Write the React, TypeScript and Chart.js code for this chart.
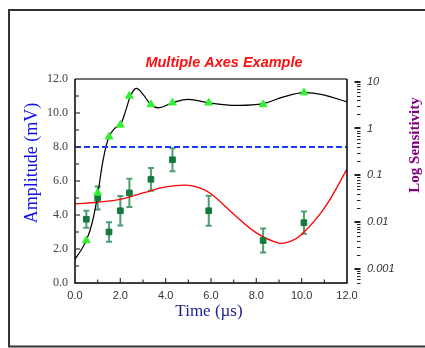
import { useEffect, useRef } from 'react';
import { Chart, registerables } from 'chart.js';

Chart.register(...registerables);

// Smooth black response curve
const responseX = [0, 0.25, 0.5, 0.75, 1.0, 1.25, 1.5, 1.75, 2.0, 2.25, 2.45, 2.7, 3.0, 3.35, 3.7, 4.3, 5.0, 5.9, 7.1, 8.3, 9.2, 10.1, 11.0, 12.0];
const responseY = [1.4, 1.9, 2.5, 3.5, 5.2, 7.3, 8.6, 9.1, 9.3, 10.2, 11.0, 11.45, 11.1, 10.5, 10.3, 10.6, 10.8, 10.6, 10.45, 10.55, 10.95, 11.2, 11.05, 10.65];

// Red fit curve
const fitX = [0, 1, 2, 3, 4, 4.9, 5.5, 6, 7, 8, 9, 9.5, 10, 11, 12];
const fitY = [4.65, 4.75, 4.92, 5.3, 5.65, 5.76, 5.6, 5.25, 4.05, 2.95, 2.35, 2.45, 2.85, 4.4, 6.7];

// Sample points
const sampleX = [0.5, 1.0, 1.5, 2.0, 2.4, 3.35, 4.3, 5.9, 8.3, 10.1];
const triangleY = [2.5, 5.3, 8.6, 9.3, 11.0, 10.5, 10.6, 10.6, 10.5, 11.2];
const squareY = [3.75, 5.0, 3.0, 4.25, 5.3, 6.1, 7.25, 4.25, 2.5, 3.55];
const squareErr = [0.5, 0.67, 0.57, 0.87, 0.83, 0.67, 0.67, 0.88, 0.7, 0.65];

// Threshold line
const thresholdX = [0, 12];
const thresholdY = [8, 8];

// Ticks
const xTicks = [0, 2, 4, 6, 8, 10, 12];
const yTicks = [0, 2, 4, 6, 8, 10, 12];
const logTicks = [0.001, 0.01, 0.1, 1, 10];
const logLabels = ['0.001', '0.01', '0.1', '1', '10'];

const toPts = (xs: number[], ys: number[]) => xs.map((x, i) => ({ x, y: ys[i] }));

const decorPlugin = {
  id: 'decor',
  beforeDraw(chart: any) {
    const ctx = chart.ctx;
    ctx.save();
    ctx.fillStyle = '#ffffff';
    ctx.fillRect(0, 0, chart.width, chart.height);
    ctx.strokeStyle = '#333333';
    ctx.lineWidth = 2;
    ctx.beginPath();
    ctx.moveTo(chart.width + 5, 10);
    ctx.lineTo(9, 10);
    ctx.lineTo(9, 346.5);
    ctx.lineTo(chart.width + 5, 346.5);
    ctx.stroke();
    ctx.restore();
  },
  beforeDatasetsDraw(chart: any) {
    const ctx = chart.ctx;
    const xs = chart.scales.x;
    const ys = chart.scales.y;
    ctx.save();
    ctx.strokeStyle = 'rgba(20,125,65,0.75)';
    ctx.lineWidth = 2;
    sampleX.forEach((xv, i) => {
      const px = xs.getPixelForValue(xv);
      const top = ys.getPixelForValue(squareY[i] + squareErr[i]);
      const bot = ys.getPixelForValue(squareY[i] - squareErr[i]);
      ctx.beginPath();
      ctx.moveTo(px, top);
      ctx.lineTo(px, bot);
      ctx.moveTo(px - 3, top);
      ctx.lineTo(px + 3, top);
      ctx.moveTo(px - 3, bot);
      ctx.lineTo(px + 3, bot);
      ctx.stroke();
    });
    ctx.restore();
  },
  afterDraw(chart: any) {
    const ctx = chart.ctx;
    const a = chart.chartArea;
    const xs = chart.scales.x;
    const ys = chart.scales.y;
    const ls = chart.scales.ylog;
    ctx.save();
    // frame
    ctx.lineWidth = 1.5;
    ctx.strokeStyle = '#444';
    ctx.beginPath();
    ctx.moveTo(a.left, a.top);
    ctx.lineTo(a.right, a.top);
    ctx.stroke();
    ctx.strokeStyle = '#000';
    ctx.beginPath();
    ctx.moveTo(a.left, a.top);
    ctx.lineTo(a.left, a.bottom);
    ctx.lineTo(a.right, a.bottom);
    ctx.lineTo(a.right, a.top);
    ctx.stroke();
    // inward ticks
    ctx.lineWidth = 1.2;
    ctx.strokeStyle = '#333';
    for (let v = 1; v < 12; v++) {
      const px = xs.getPixelForValue(v);
      const len = v % 2 === 0 ? 5 : 3.5;
      ctx.beginPath();
      ctx.moveTo(px, a.bottom);
      ctx.lineTo(px, a.bottom - len);
      ctx.stroke();
      const py = ys.getPixelForValue(v);
      ctx.beginPath();
      ctx.moveTo(a.left, py);
      ctx.lineTo(a.left + (v % 2 === 0 ? 5 : 4), py);
      ctx.stroke();
    }
    // log ticks
    ctx.lineWidth = 1;
    ctx.strokeStyle = '#222';
    const tickRight = ls.left + 5.5;
    for (let e = -4; e <= 1; e++) {
      for (let m = 1; m <= 9; m++) {
        const v = m * Math.pow(10, e);
        if (v < ls.min || v > ls.max) continue;
        const py = Math.round(ls.getPixelForValue(v)) + 0.5;
        ctx.beginPath();
        ctx.moveTo(tickRight - (m === 1 ? 6 : 3.5), py);
        ctx.lineTo(tickRight, py);
        ctx.stroke();
        if (m === 1) {
          ctx.beginPath();
          ctx.moveTo(tickRight - 6, py - 1);
          ctx.lineTo(tickRight, py - 1);
          ctx.stroke();
        }
      }
    }
    // titles
    ctx.textAlign = 'center';
    ctx.textBaseline = 'middle';
    ctx.fillStyle = '#ff1010';
    ctx.font = 'italic bold 14.5px "Liberation Sans", Arial, sans-serif';
    ctx.fillText('Multiple Axes Example', 224, 63);
    ctx.fillStyle = '#1c1c8e';
    ctx.font = '17px "Liberation Serif", "Times New Roman", serif';
    ctx.fillText('Time (\u00b5s)', 209, 312);
    ctx.save();
    ctx.translate(32, 163);
    ctx.rotate(-Math.PI / 2);
    ctx.fillStyle = '#1010ee';
    ctx.font = '18px "Liberation Serif", "Times New Roman", serif';
    ctx.fillText('Amplitude (mV)', 0, 0);
    ctx.restore();
    ctx.save();
    ctx.translate(415, 145);
    ctx.rotate(-Math.PI / 2);
    ctx.fillStyle = '#800080';
    ctx.font = 'bold 15px "Liberation Serif", "Times New Roman", serif';
    ctx.fillText('Log Sensitivity', 0, 0);
    ctx.restore();
    ctx.restore();
  },
};

export default function App() {
  const ref = useRef<HTMLCanvasElement | null>(null);
  useEffect(() => {
    if (!ref.current) return;
    const chart = new Chart(ref.current, {
      type: 'scatter',
      data: {
        datasets: [
          {
            label: 'Response',
            data: toPts(responseX, responseY),
            showLine: true,
            borderColor: '#000000',
            borderWidth: 1.2,
            pointRadius: 0,
            tension: 0.4,
            xAxisID: 'x',
            yAxisID: 'y',
            order: 4,
          },
          {
            label: 'Fit',
            data: toPts(fitX, fitY),
            showLine: true,
            borderColor: '#ff0000',
            borderWidth: 1.3,
            pointRadius: 0,
            tension: 0.4,
            xAxisID: 'x',
            yAxisID: 'y',
            order: 5,
          },
          {
            label: 'Threshold',
            data: toPts(thresholdX, thresholdY),
            showLine: true,
            borderColor: '#1a3cff',
            borderWidth: 2,
            borderDash: [6, 3],
            pointRadius: 0,
            xAxisID: 'x',
            yAxisID: 'y',
            order: 3,
          },
          {
            label: 'Samples',
            data: toPts(sampleX, squareY),
            showLine: false,
            pointStyle: 'rect',
            pointRadius: 4,
            backgroundColor: '#13793d',
            borderColor: '#13793d',
            borderWidth: 1,
            xAxisID: 'x',
            yAxisID: 'y',
            order: 2,
          },
          {
            label: 'Peaks',
            data: toPts(sampleX, triangleY),
            showLine: false,
            pointStyle: 'triangle',
            pointRadius: 4.5,
            backgroundColor: '#33f033',
            borderColor: '#33f033',
            borderWidth: 1,
            xAxisID: 'x',
            yAxisID: 'y',
            order: 1,
          },
        ],
      },
      options: {
        animation: false,
        responsive: false,
        devicePixelRatio: 1,
        events: [],
        layout: { padding: { top: 79, left: 0, right: 0, bottom: 0 } },
        plugins: { legend: { display: false }, title: { display: false }, tooltip: { enabled: false } },
        scales: {
          x: {
            type: 'linear',
            position: 'bottom',
            min: 0,
            max: 12,
            grid: { display: false, drawTicks: false },
            border: { display: false },
            afterBuildTicks: (s: any) => { s.ticks = xTicks.map((v) => ({ value: v })); },
            afterFit: (s: any) => { s.height = 65; },
            ticks: {
              callback: (v: any) => Number(v).toFixed(1),
              font: { family: '"Liberation Sans", Arial, sans-serif', size: 11 },
              color: '#333',
              padding: 6,
              maxRotation: 0,
              autoSkip: false,
            },
          },
          y: {
            type: 'linear',
            position: 'left',
            min: 0,
            max: 12,
            grid: { display: false, drawTicks: false },
            border: { display: false },
            afterBuildTicks: (s: any) => { s.ticks = yTicks.map((v) => ({ value: v })); },
            afterFit: (s: any) => { s.width = 75; },
            ticks: {
              callback: (v: any) => Number(v).toFixed(1),
              font: { family: '"Liberation Serif", "Times New Roman", serif', size: 12 },
              color: '#444',
              padding: 7,
              autoSkip: false,
            },
          },
          spacer: {
            type: 'linear',
            position: 'right',
            weight: 0,
            grid: { display: false, drawTicks: false },
            border: { display: false },
            ticks: { display: false },
            afterFit: (s: any) => { s.width = 8; },
          },
          ylog: {
            type: 'logarithmic',
            position: 'right',
            weight: 1,
            min: 0.0005,
            max: 11.4,
            grid: { display: false, drawTicks: false },
            border: { display: false },
            afterBuildTicks: (s: any) => { s.ticks = logTicks.map((v) => ({ value: v })); },
            afterFit: (s: any) => { s.width = 70; },
            ticks: {
              callback: (v: any) => {
                const i = logTicks.findIndex((t) => Math.abs(t - Number(v)) / t < 1e-6);
                return i >= 0 ? logLabels[i] : '';
              },
              font: { family: '"Liberation Sans", Arial, sans-serif', size: 11, style: 'italic' },
              color: '#333',
              padding: 12,
              autoSkip: false,
            },
          },
        },
      },
      plugins: [decorPlugin],
    } as any);
    return () => chart.destroy();
  }, []);
  return (
    <div style={{ position: 'fixed', left: 0, top: 0, width: 425, height: 348 }}>
      <canvas ref={ref} width={425} height={348} style={{ display: 'block', width: 425, height: 348 }} />
    </div>
  );
}
